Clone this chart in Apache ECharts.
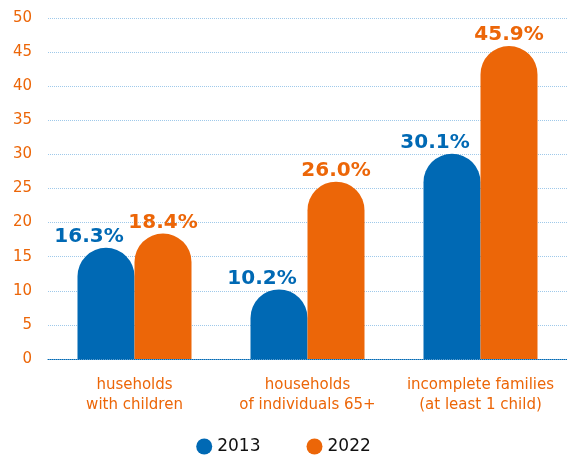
<!DOCTYPE html>
<html>
<head>
<meta charset="utf-8">
<script src="https://cdn.jsdelivr.net/npm/echarts@6/dist/echarts.min.js"></script>
<style>
  html, body { margin: 0; padding: 0; background: #fff; }
  #chart { width: 567px; height: 460px; }
</style>
</head>
<body>
<div id="chart"></div>
<script>
const categories = ['huseholds\nwith children', 'households\nof individuals 65+', 'incomplete families\n(at least 1 child)']
const values2013 = [16.3, 10.2, 30.1]
const values2022 = [18.4, 26.0, 45.9]

const blue = '#0069b4'
const orange = '#ec6608'
const font = 'DejaVu Sans'

const chart = echarts.init(document.getElementById('chart'))

const option = {
  animation: false,
  textStyle: { fontFamily: font },
  legend: {
    bottom: 0,
    left: 'center',
    icon: 'circle',
    itemWidth: 16,
    itemHeight: 16,
    itemGap: 46,
    textStyle: { color: '#111', fontSize: 17, fontFamily: font },
    data: ['2013', '2022']
  },
  grid: {
    left: 48,
    right: 0,
    top: 18,
    bottom: 101
  },
  xAxis: {
    type: 'category',
    data: categories,
    axisTick: { show: false },
    axisLine: { lineStyle: { color: blue, type: 'dotted', width: 1 } },
    axisLabel: {
      interval: 0,
      color: orange,
      fontSize: 15,
      lineHeight: 20,
      margin: 16
    }
  },
  yAxis: {
    type: 'value',
    min: 0,
    max: 50,
    interval: 5,
    axisLine: { show: false },
    axisTick: { show: false },
    axisLabel: { color: orange, fontSize: 15, margin: 16 },
    splitLine: { lineStyle: { color: '#9fc9ea', type: 'dotted', width: 1 } }
  },
  series: [
    {
      name: '2013',
      type: 'bar',
      data: values2013,
      barWidth: 57,
      barGap: 0,
      itemStyle: { color: blue, borderRadius: [29, 29, 0, 0] },
      label: {
        show: true,
        position: 'top',
        distance: 1,
        offset: [-17, 0],
        color: blue,
        fontSize: 20,
        fontWeight: 'bold',
        formatter: p => p.value.toFixed(1) + '%'
      }
    },
    {
      name: '2022',
      type: 'bar',
      data: values2022,
      barWidth: 57,
      barGap: 0,
      itemStyle: { color: orange, borderRadius: [29, 29, 0, 0] },
      label: {
        show: true,
        position: 'top',
        distance: 1,
        color: orange,
        fontSize: 20,
        fontWeight: 'bold',
        formatter: p => p.value.toFixed(1) + '%'
      }
    }
  ]
}

chart.setOption(option)
</script>
</body>
</html>
